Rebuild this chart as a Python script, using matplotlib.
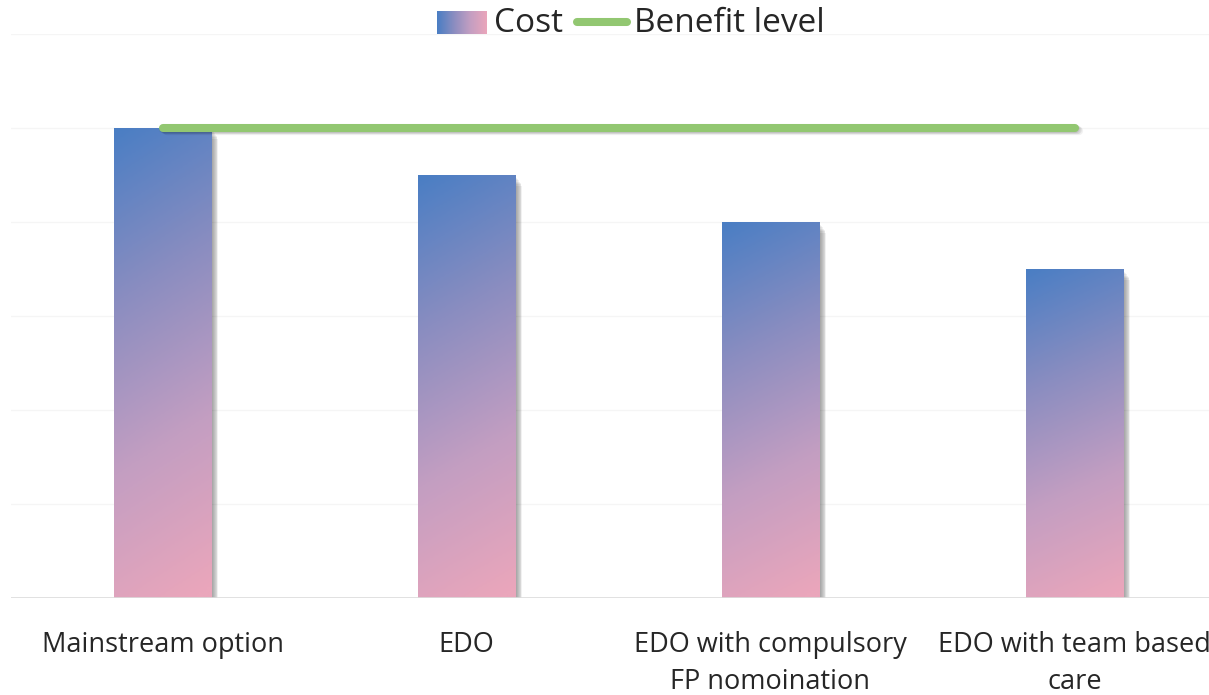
import numpy as np
import matplotlib
matplotlib.use('Agg')
import matplotlib.pyplot as plt
from matplotlib.colors import LinearSegmentedColormap
from matplotlib.patches import Rectangle
from matplotlib.lines import Line2D

categories = ['Mainstream option', 'EDO', 'EDO with compulsory\nFP nomoination',
              'EDO with team based\ncare']
cost = [5.0, 4.5, 4.0, 3.5]
benefit = [5.0, 5.0, 5.0, 5.0]

plt.rcParams['font.family'] = ['Open Sans', 'DejaVu Sans']
text_col = '#262626'

grad = LinearSegmentedColormap.from_list(
    'costgrad', ['#4A7EC4', '#8A8DC0', '#C39EC2', '#EAA6BB'])

fig = plt.figure(figsize=(12.09, 6.95), dpi=100)
W, H = 1209, 695
ax = fig.add_axes([10.5 / W, 97 / H, 1216 / W, 564 / H])
ax.set_xlim(-0.5, 3.5)
ax.set_ylim(0, 6)

# faint horizontal grid
for y in range(1, 7):
    ax.axhline(y, color='#F5F5F5', lw=1, zorder=0)
ax.axhline(0, color='#DCDCDC', lw=1.2, zorder=5)

bw = 0.32
px = 1 / 304.0
# soft drop shadow, then a gradient fill per bar
for i, v in enumerate(cost):
    x0 = i - bw / 2
    for k in range(1, 9):
        ax.add_patch(Rectangle((x0 + k * px * 0.9, -k * 0.002), bw, v - k * 0.012,
                               color='black', alpha=0.055, lw=0, zorder=1))
    yy, xx = np.mgrid[0:1:200j, 0:1:50j]
    t = np.clip(0.9 * yy + 0.12 * xx, 0, 1)
    ax.imshow(t, cmap=grad, vmin=0, vmax=1, aspect='auto', origin='upper',
              extent=(x0, x0 + bw, 0, v), zorder=2, interpolation='bilinear')

ax.set_xlim(-0.5, 3.5)
ax.set_ylim(0, 6)

# benefit line with a light shadow underneath
xs = np.arange(len(benefit))
for k in range(1, 6):
    ax.plot(xs + k * px * 0.8, np.array(benefit) - k * 0.006, color='black',
            alpha=0.05, lw=6, solid_capstyle='round', zorder=3)
ax.plot(xs, benefit, color='#92C771', lw=5.8, solid_capstyle='round', zorder=4)

ax.set_xticks(xs)
ax.set_xticklabels(categories, fontsize=19.5, color=text_col, linespacing=1.42)
ax.tick_params(axis='x', length=0, pad=24)
ax.set_yticks([])
for s in ax.spines.values():
    s.set_visible(False)

# legend drawn by hand: gradient swatch + line key
sw = fig.add_axes([437 / W, (H - 34) / H, 50 / W, 23 / H])
sw.imshow(np.linspace(0, 1, 100)[None, :], cmap=grad, aspect='auto',
          extent=(0, 1, 0, 1), interpolation='bilinear')
sw.set_axis_off()
ly = (H - 24) / H
fig.text(494 / W, ly, 'Cost', fontsize=24, color=text_col, va='center')
fig.add_artist(Line2D([577 / W, 627 / W], [(H - 22) / H, (H - 22) / H],
                      color='#92C771', lw=5.8, solid_capstyle='round'))
fig.text(634 / W, ly, 'Benefit level', fontsize=24, color=text_col, va='center')

fig.savefig('out.png', dpi=100)
